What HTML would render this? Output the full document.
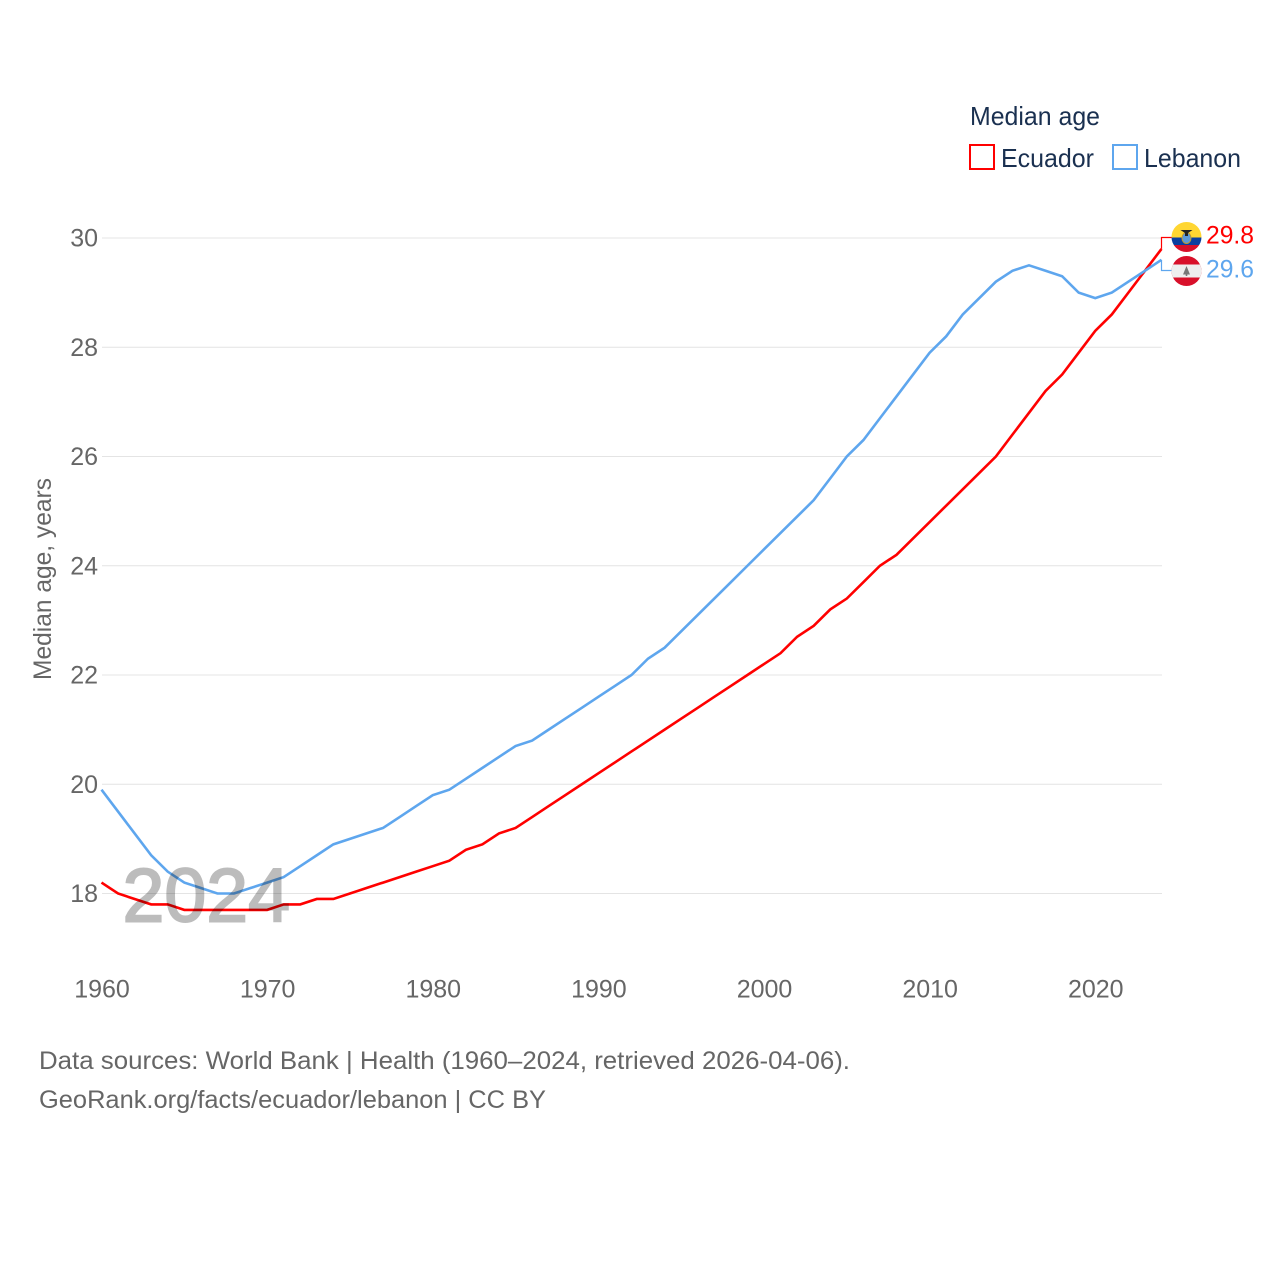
<!DOCTYPE html>
<html>
<head>
<meta charset="utf-8">
<title>Median age: Ecuador and Lebanon</title>
<style>
html,body{margin:0;padding:0;background:#fff;width:1280px;height:1280px;overflow:hidden}
svg{display:block}
text{font-family:"Liberation Sans",sans-serif}
</style>
</head>
<body>
<svg id="chart" width="1280" height="1280" viewBox="0 0 1280 1280" xmlns="http://www.w3.org/2000/svg">
  <defs>
    <clipPath id="clip-ec"><circle cx="1186.5" cy="237" r="15"/></clipPath>
    <clipPath id="clip-lb"><circle cx="1186.5" cy="271" r="15"/></clipPath>
  </defs>
  <g id="grid"></g>
  <g id="yticks"></g>
  <g id="xticks"></g>
  <g id="series"></g>
  <text x="122.5" y="921.5" font-size="76" fill="#000" stroke="#000" stroke-width="2" opacity="0.26" textLength="167.5" lengthAdjust="spacingAndGlyphs">2024</text>
  <text transform="translate(51,680) rotate(-90)" font-size="25" fill="#666" textLength="202" lengthAdjust="spacingAndGlyphs">Median age, years</text>

  <text x="970" y="125" font-size="26" fill="#1a3050" textLength="130" lengthAdjust="spacingAndGlyphs">Median age</text>
  <rect x="970" y="145" width="24" height="24" fill="none" stroke="#ff0000" stroke-width="2"/>
  <text x="1001" y="167" font-size="26" fill="#1a3050" textLength="93" lengthAdjust="spacingAndGlyphs">Ecuador</text>
  <rect x="1113" y="145" width="24" height="24" fill="none" stroke="#5ea6ee" stroke-width="2"/>
  <text x="1144" y="167" font-size="26" fill="#1a3050" textLength="97" lengthAdjust="spacingAndGlyphs">Lebanon</text>

  <g id="connectors"></g>

  <g clip-path="url(#clip-ec)">
    <rect x="1171" y="222" width="31" height="15.5" fill="#ffd632"/>
    <rect x="1171" y="237.5" width="31" height="7.5" fill="#0a3fa0"/>
    <rect x="1171" y="245" width="31" height="8" fill="#d8102a"/>
    <ellipse cx="1186.5" cy="238" rx="4.5" ry="5.5" fill="#5c9ad8" stroke="#c59a2a" stroke-width="1"/>
    <path d="M1180.5 230 L1192.5 230 L1188 233 L1188 236 L1185 236 L1185 233 Z" fill="#222"/>
  </g>
  <g clip-path="url(#clip-lb)">
    <rect x="1171" y="256" width="31" height="31" fill="#d8102a"/>
    <rect x="1171" y="264.5" width="31" height="13" fill="#eeeeee"/>
    <path d="M1186.5 266 L1190 274.5 L1187.3 274.5 L1187.3 276 L1185.7 276 L1185.7 274.5 L1183 274.5 Z" fill="#777"/>
  </g>

  <text x="1206" y="243.5" font-size="25" fill="#ff0000" textLength="48" lengthAdjust="spacingAndGlyphs">29.8</text>
  <text x="1206" y="277.5" font-size="25" fill="#5ea6ee" textLength="48" lengthAdjust="spacingAndGlyphs">29.6</text>

  <text x="39" y="1069" font-size="25" fill="#666" textLength="811" lengthAdjust="spacingAndGlyphs">Data sources: World Bank | Health (1960–2024, retrieved 2026-04-06).</text>
  <text x="39" y="1108" font-size="25" fill="#666" textLength="507" lengthAdjust="spacingAndGlyphs">GeoRank.org/facts/ecuador/lebanon | CC BY</text>
</svg>
<script>
const years = [1960,1961,1962,1963,1964,1965,1966,1967,1968,1969,1970,1971,1972,1973,1974,1975,1976,1977,1978,1979,1980,1981,1982,1983,1984,1985,1986,1987,1988,1989,1990,1991,1992,1993,1994,1995,1996,1997,1998,1999,2000,2001,2002,2003,2004,2005,2006,2007,2008,2009,2010,2011,2012,2013,2014,2015,2016,2017,2018,2019,2020,2021,2022,2023,2024];
const ecuador = [18.2,18.0,17.9,17.8,17.8,17.7,17.7,17.7,17.7,17.7,17.7,17.8,17.8,17.9,17.9,18.0,18.1,18.2,18.3,18.4,18.5,18.6,18.8,18.9,19.1,19.2,19.4,19.6,19.8,20.0,20.2,20.4,20.6,20.8,21.0,21.2,21.4,21.6,21.8,22.0,22.2,22.4,22.7,22.9,23.2,23.4,23.7,24.0,24.2,24.5,24.8,25.1,25.4,25.7,26.0,26.4,26.8,27.2,27.5,27.9,28.3,28.6,29.0,29.4,29.8];
const lebanon = [19.9,19.5,19.1,18.7,18.4,18.2,18.1,18.0,18.0,18.1,18.2,18.3,18.5,18.7,18.9,19.0,19.1,19.2,19.4,19.6,19.8,19.9,20.1,20.3,20.5,20.7,20.8,21.0,21.2,21.4,21.6,21.8,22.0,22.3,22.5,22.8,23.1,23.4,23.7,24.0,24.3,24.6,24.9,25.2,25.6,26.0,26.3,26.7,27.1,27.5,27.9,28.2,28.6,28.9,29.2,29.4,29.5,29.4,29.3,29.0,28.9,29.0,29.2,29.4,29.6];
const yTickValues = [18,20,22,24,26,28,30];
const xTickValues = [1960,1970,1980,1990,2000,2010,2020];

const NS = 'http://www.w3.org/2000/svg';
const xScale = function (year) { return 101.5 + (year - 1960) * (1161.5 - 101.5) / 64; };
const yScale = function (v) { return 238 + (30 - v) * (893.5 - 238) / 12; };

const gridGroup = document.getElementById('grid');
const yGroup = document.getElementById('yticks');
const xGroup = document.getElementById('xticks');
const seriesGroup = document.getElementById('series');
const connGroup = document.getElementById('connectors');

yTickValues.forEach(function (v) {
  const line = document.createElementNS(NS, 'line');
  
  
  line.setAttribute('x1', 102);
  line.setAttribute('x2', 1162);
  line.setAttribute('y1', yScale(v));
  line.setAttribute('y2', yScale(v));
  line.setAttribute('stroke', '#e4e4e4');
  line.setAttribute('stroke-width', '1');
  gridGroup.appendChild(line);

  const label = document.createElementNS(NS, 'text');
  
  
  label.setAttribute('x', 98);
  label.setAttribute('y', yScale(v) + 8.5);
  label.setAttribute('text-anchor', 'end');
  label.setAttribute('font-size', '25');
  label.setAttribute('fill', '#666');
  label.textContent = String(v);
  yGroup.appendChild(label);
});

xTickValues.forEach(function (year) {
  const label = document.createElementNS(NS, 'text');
  
  
  label.setAttribute('x', xScale(year) + 0.5);
  label.setAttribute('y', 997.5);
  label.setAttribute('text-anchor', 'middle');
  label.setAttribute('font-size', '25');
  label.setAttribute('fill', '#666');
  label.textContent = String(year);
  xGroup.appendChild(label);
});

function linePoints(values) {
  return values.map(function (v, i) {
    return xScale(years[i]).toFixed(2) + ',' + yScale(v).toFixed(2);
  }).join(' ');
}

const ecuadorLine = document.createElementNS(NS, 'polyline');


ecuadorLine.setAttribute('points', linePoints(ecuador));
ecuadorLine.setAttribute('fill', 'none');
ecuadorLine.setAttribute('stroke', '#ff0000');
ecuadorLine.setAttribute('stroke-width', '2.6');
seriesGroup.appendChild(ecuadorLine);

const lebanonLine = document.createElementNS(NS, 'polyline');


lebanonLine.setAttribute('points', linePoints(lebanon));
lebanonLine.setAttribute('fill', 'none');
lebanonLine.setAttribute('stroke', '#5ea6ee');
lebanonLine.setAttribute('stroke-width', '2.6');
seriesGroup.appendChild(lebanonLine);

const lastIndex = years.length - 1;

const ecuadorConnector = document.createElementNS(NS, 'path');


ecuadorConnector.setAttribute('d', 'M1161.5 ' + yScale(ecuador[lastIndex]).toFixed(2) + ' V237.5 H1172');
ecuadorConnector.setAttribute('fill', 'none');
ecuadorConnector.style.stroke = 'rgb(255,0,0)';
ecuadorConnector.style.strokeWidth = '1.2px';
connGroup.appendChild(ecuadorConnector);

const lebanonConnector = document.createElementNS(NS, 'path');


lebanonConnector.setAttribute('d', 'M1161.5 ' + yScale(lebanon[lastIndex]).toFixed(2) + ' V270.5 H1172');
lebanonConnector.setAttribute('fill', 'none');
lebanonConnector.style.stroke = 'rgb(94,166,238)';
lebanonConnector.style.strokeWidth = '1.2px';
connGroup.appendChild(lebanonConnector);
</script>
</body>
</html>
